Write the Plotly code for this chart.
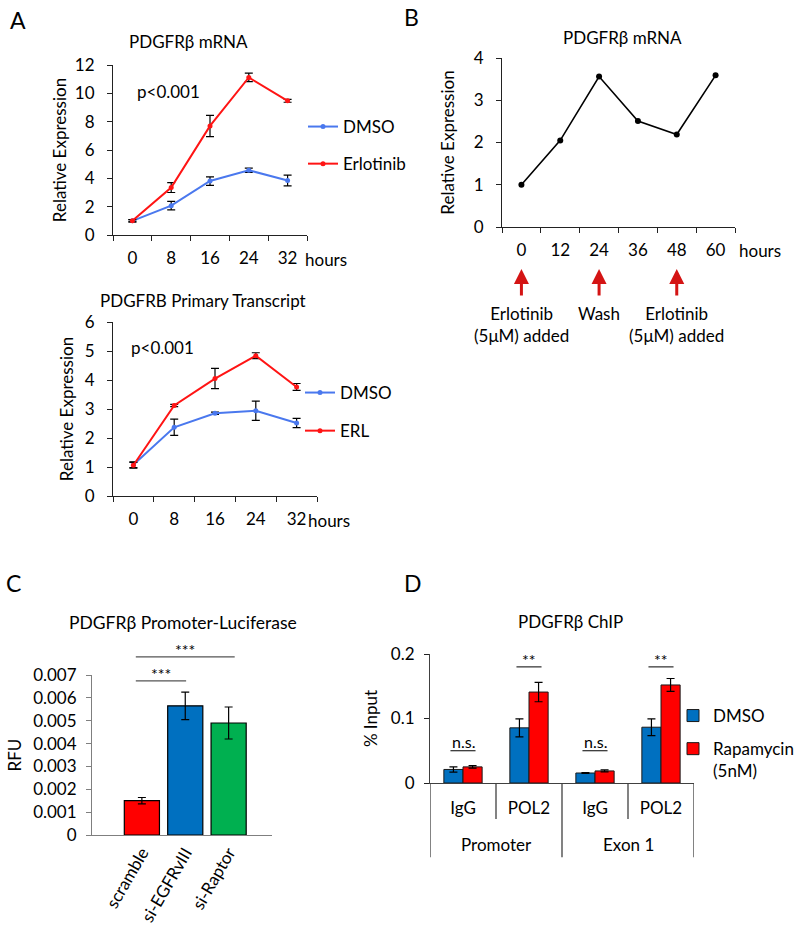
import plotly.graph_objects as go

# ---------------- data ----------------
# Panel A (top): PDGFRβ mRNA
a_hours = ["0", "8", "16", "24", "32"]
a1_dmso = [1.0, 2.07, 3.81, 4.57, 3.85]
a1_dmso_err = [0.08, 0.3, 0.3, 0.15, 0.38]
a1_erl = [1.0, 3.35, 7.7, 11.12, 9.47]
a1_erl_err = [0.08, 0.35, 0.75, 0.3, 0.1]

# Panel A (bottom): PDGFRB primary transcript
a2_dmso = [1.08, 2.37, 2.85, 2.94, 2.52]
a2_dmso_err = [0.1, 0.28, 0.04, 0.33, 0.16]
a2_erl = [1.06, 3.12, 4.05, 4.84, 3.76]
a2_erl_err = [0.1, 0.04, 0.35, 0.1, 0.12]

# Panel B: PDGFRβ mRNA time course
b_hours = ["0", "12", "24", "36", "48", "60"]
b_expr = [1.0, 2.05, 3.56, 2.51, 2.19, 3.59]
b_events = [("0", "Erlotinib<br>(5μM) added"), ("24", "Wash"), ("48", "Erlotinib<br>(5μM) added")]

# Panel C: promoter luciferase
c_groups = ["scramble", "si-EGFRvIII", "si-Raptor"]
c_rfu = [0.0015, 0.00565, 0.0049]
c_err = [0.00014, 0.0006, 0.0007]

# Panel D: ChIP
d_targets = ["IgG", "POL2", "IgG", "POL2"]
d_regions = ["Promoter", "Exon 1"]
d_dmso = [0.021, 0.0855, 0.0155, 0.0865]
d_dmso_err = [0.004, 0.014, 0.0006, 0.013]
d_rapa = [0.025, 0.141, 0.0187, 0.152]
d_rapa_err = [0.002, 0.015, 0.0015, 0.01]
d_sig = ["n.s.", "**", "n.s.", "**"]

# ---------------- style ----------------
FONT = "Lato"
W, H = 800, 925
BLUE_L = "#4A78EE"
RED_L = "#FF1414"
BAR_BLUE = "#0070C0"
BAR_RED = "#FF0000"
BAR_GREEN = "#00B050"
AX = "#222222"
GREY = "#7F7F7F"


def X(px):
    return px / W


def Y(px):
    return 1 - px / H


fig = go.Figure()

err_style = dict(type="data", color="black", thickness=1.2, width=4)


def add_line(x, y, err, color, name, xa, ya, leg):
    fig.add_trace(go.Scatter(
        x=x, y=y, error_y=dict(array=err, **err_style),
        mode="lines+markers", line=dict(color=color, width=2),
        marker=dict(size=5, color=color), name=name,
        xaxis=xa, yaxis=ya, legend=leg, legendgroup=name + leg))


add_line(a_hours, a1_dmso, a1_dmso_err, BLUE_L, "DMSO", "x", "y", "legend")
add_line(a_hours, a1_erl, a1_erl_err, RED_L, "Erlotinib", "x", "y", "legend")
add_line(a_hours, a2_dmso, a2_dmso_err, BLUE_L, "DMSO", "x2", "y2", "legend2")
add_line(a_hours, a2_erl, a2_erl_err, RED_L, "ERL", "x2", "y2", "legend2")

fig.add_trace(go.Scatter(
    x=b_hours, y=b_expr, mode="lines+markers",
    line=dict(color="black", width=1.6), marker=dict(size=6, color="black"),
    xaxis="x3", yaxis="y3", showlegend=False))

fig.add_trace(go.Bar(
    x=c_groups, y=c_rfu, error_y=dict(array=c_err, **err_style), width=0.81,
    marker=dict(color=[BAR_RED, BAR_BLUE, BAR_GREEN], line=dict(color="black", width=1.2)),
    xaxis="x4", yaxis="y4", showlegend=False))

d_pos = list(range(len(d_targets)))
fig.add_trace(go.Bar(
    x=d_pos, y=d_dmso, error_y=dict(array=d_dmso_err, **err_style),
    width=0.29, offset=-0.29,
    marker=dict(color=BAR_BLUE, line=dict(color="#1a1a1a", width=1)),
    name="DMSO", xaxis="x5", yaxis="y5", legend="legend3", legendgroup="d1"))
fig.add_trace(go.Bar(
    x=d_pos, y=d_rapa, error_y=dict(array=d_rapa_err, **err_style),
    width=0.29, offset=0.0,
    marker=dict(color=BAR_RED, line=dict(color="#1a1a1a", width=1)),
    name="Rapamycin<br>(5nM)", xaxis="x5", yaxis="y5", legend="legend3", legendgroup="d2"))

tickf = dict(family=FONT, size=17, color="black")
titlef = dict(family=FONT, size=17, color="black")


def xcat(domain, n, **kw):
    d = dict(domain=domain, type="category", range=[-0.5, n - 0.5], showline=True,
             linecolor=AX, linewidth=1, ticks="outside", tickson="boundaries", ticklen=5,
             tickcolor=AX, tickfont=tickf, showgrid=False, zeroline=False,
             ticklabelstandoff=8, tickangle=0)
    d.update(kw)
    return d


def yax(domain, rng, dtick, title, anchor, standoff=8, **kw):
    d = dict(domain=domain, range=rng, dtick=dtick, showline=True, linecolor=AX, linewidth=1,
             ticks="outside", ticklen=5, tickcolor=AX, tickfont=tickf, showgrid=False,
             zeroline=False, anchor=anchor, ticklabelstandoff=9,
             title=dict(text=title, font=titlef, standoff=standoff))
    d.update(kw)
    return d


fig.update_layout(
    width=W, height=H, margin=dict(l=0, r=0, t=0, b=0, autoexpand=False),
    paper_bgcolor="white", plot_bgcolor="white",
    font=dict(family=FONT, color="black"),
    barmode="overlay",
    xaxis=xcat([X(113), X(307)], len(a_hours), anchor="y"),
    yaxis=yax([Y(235), Y(65)], [0, 12], 2, "Relative Expression", "x", standoff=3),
    xaxis2=xcat([X(113), X(317)], len(a_hours), anchor="y2"),
    yaxis2=yax([Y(496), Y(322)], [0, 6], 1, "Relative Expression", "x2", standoff=6),
    xaxis3=xcat([X(502), X(735)], len(b_hours), anchor="y3"),
    yaxis3=yax([Y(227), Y(58)], [0, 4], 1, "Relative Expression", "x3", standoff=14),
    xaxis4=dict(domain=[X(92), X(272)], type="category", range=[-1.15, 3.0], anchor="y4",
                showline=True, linecolor=GREY, linewidth=1, ticks="", tickangle=-60,
                tickfont=tickf, showgrid=False),
    yaxis4=yax([Y(835), Y(675)], [0, 0.007], 0.001, "RFU", "x4", standoff=7,
               linecolor=GREY, tickcolor=GREY, ticklabelstandoff=6),
    xaxis5=dict(domain=[X(430), X(694)], range=[-0.5, 3.5], anchor="y5",
                tickvals=d_pos, ticktext=d_targets, showline=True, linecolor="#404040",
                linewidth=1, ticks="", tickfont=tickf, showgrid=False, zeroline=False,
                ticklabelstandoff=10),
    yaxis5=yax([Y(783), Y(654)], [0, 0.2], 0.1, "% Input", "x5", linecolor="#404040",
               ticklabelstandoff=6),
    legend=dict(x=X(303), y=Y(109), xanchor="left", yanchor="top", font=tickf,
                bgcolor="rgba(0,0,0,0)", tracegroupgap=12, itemwidth=30),
    legend2=dict(x=X(300), y=Y(375), xanchor="left", yanchor="top", font=tickf,
                 bgcolor="rgba(0,0,0,0)", tracegroupgap=13, itemwidth=30),
    legend3=dict(x=X(673), y=Y(698), xanchor="left", yanchor="top", font=tickf,
                 bgcolor="rgba(0,0,0,0)", tracegroupgap=8, itemwidth=30, valign="top"),
)

ann = []


def text(x, y, s, size=17, **kw):
    d = dict(x=x, y=y, xref="paper", yref="paper", text=s, showarrow=False,
             xanchor="center", yanchor="middle",
             font=dict(family=FONT, size=size, color="black"))
    d.update(kw)
    ann.append(d)


# panel letters
text(X(18), Y(20), "A", size=23)
text(X(411), Y(17), "B", size=23)
text(X(13), Y(583), "C", size=23)
text(X(413), Y(583), "D", size=23)

# titles
text(X(188), Y(42), "PDGFRβ mRNA")
text(X(203), Y(300), "PDGFRB Primary Transcript")
text(X(622), Y(37), "PDGFRβ mRNA")
text(X(183), Y(622), "PDGFRβ Promoter-Luciferase", size=17.5)
text(X(570), Y(621), "PDGFRβ ChIP")

# p-values
text(X(168), Y(92), "p<0.001")
text(X(162), Y(348), "p<0.001")

# hours
text(X(326), Y(259), "hours")
text(X(329), Y(520), "hours")
text(X(760), Y(250), "hours")

# B arrows and event labels
for cat, lab in b_events:
    xi = b_hours.index(cat)
    ann.append(dict(x=xi, y=Y(269), xref="x3", yref="paper", text="", showarrow=True,
                    axref="pixel", ayref="pixel", ax=0, ay=28,
                    arrowhead=2, arrowsize=1, arrowwidth=3, arrowcolor="#D41414"))
    ann.append(dict(x=xi, y=Y(301), xref="x3", yref="paper", text=lab, showarrow=False,
                    xanchor="center", yanchor="top",
                    font=dict(family=FONT, size=17, color="black")))

# C significance
shapes = []
for x0, x1, yd in [(-0.14, 1.02, 0.963), (-0.14, 2.14, 1.113)]:
    shapes.append(dict(type="line", xref="x4", yref="y4 domain", x0=x0, x1=x1, y0=yd, y1=yd,
                       line=dict(color="#555555", width=1.3)))
    ann.append(dict(x=(x0 + x1) / 2, y=yd, xref="x4", yref="y4 domain", text="***",
                    showarrow=False, xanchor="center", yanchor="bottom", yshift=-4,
                    font=dict(family=FONT, size=16, color="black")))

# D significance marks
for i, s in enumerate(d_sig):
    top = 0.05 if s == "n.s." else 0.18
    shapes.append(dict(type="line", xref="x5", yref="y5", x0=d_pos[i] - 0.19, x1=d_pos[i] + 0.19,
                       y0=top, y1=top, line=dict(color="black", width=1)))
    ann.append(dict(x=d_pos[i], y=top, xref="x5", yref="y5", text=s, showarrow=False,
                    xanchor="center", yanchor="bottom", yshift=-2 if s == "n.s." else -4,
                    font=dict(family=FONT, size=16, color="black")))

# D category dividers and region labels
for xb in [-0.5, 0.5, 1.5, 2.5, 3.5]:
    long = xb in (-0.5, 1.5, 3.5)
    shapes.append(dict(type="line", xref="x5", yref="y5 domain", x0=xb, x1=xb, y0=0,
                       y1=-0.575 if long else -0.28, line=dict(color="#404040", width=1.3)))
for j, reg in enumerate(d_regions):
    ann.append(dict(x=2 * j + 0.5, y=-0.48, xref="x5", yref="y5 domain", text=reg,
                    showarrow=False, xanchor="center", yanchor="middle",
                    font=dict(family=FONT, size=17, color="black")))

fig.update_layout(annotations=ann, shapes=shapes)
fig.write_html("out.html", config={"displayModeBar": False},
               post_script="document.body.style.margin='0px';")
